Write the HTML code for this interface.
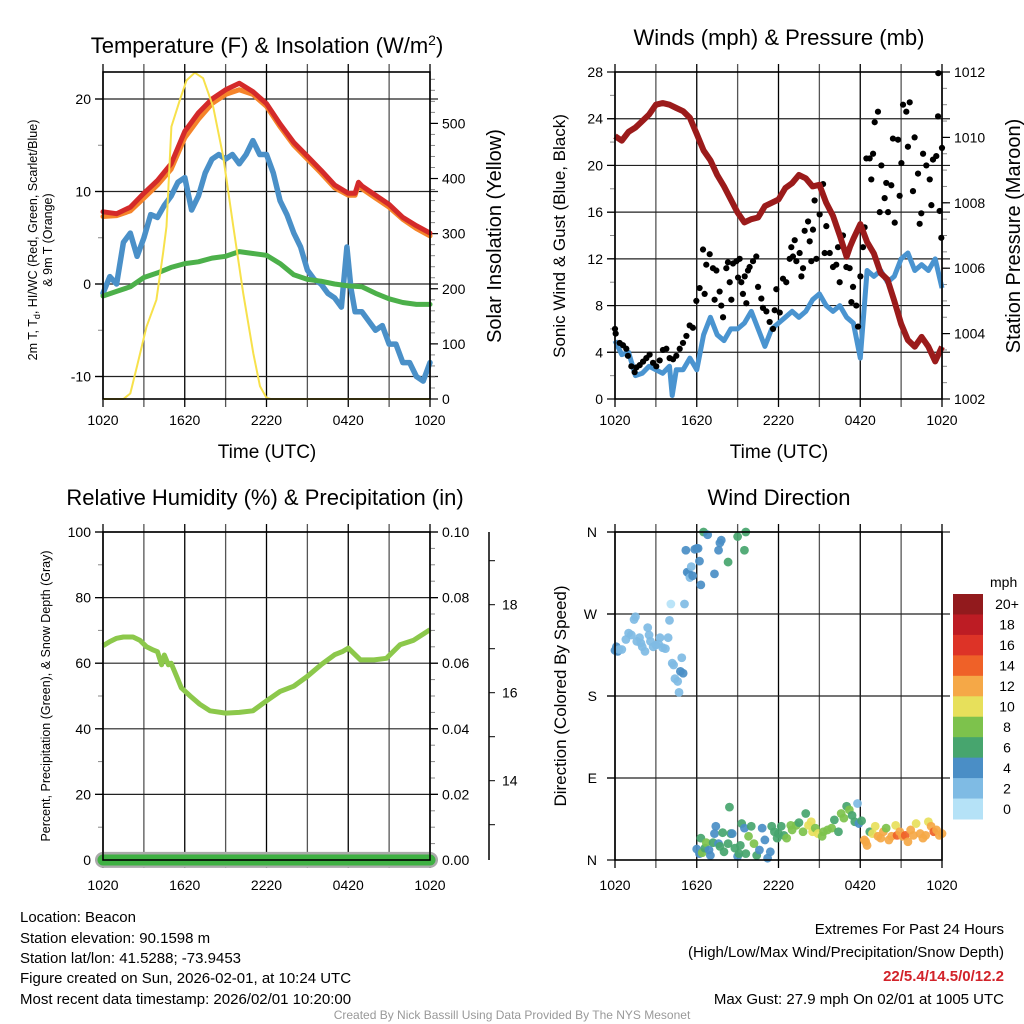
<!DOCTYPE html>
<html><head><meta charset="utf-8"><title>Beacon Mesonet Meteogram</title>
<style>
html,body{margin:0;padding:0;background:#fff;}
svg{display:block;font-family:"Liberation Sans",sans-serif;}
</style></head>
<body>
<svg id="fig" width="1024" height="1024" viewBox="0 0 1024 1024" xmlns="http://www.w3.org/2000/svg">
<rect x="0" y="0" width="1024" height="1024" fill="#fff"/>
<text x="267" y="53" font-size="22" text-anchor="middle">Temperature (F) &amp; Insolation (W/m<tspan dy="-8" font-size="14">2</tspan><tspan dy="8">)</tspan></text>
<text x="779" y="45" font-size="22" text-anchor="middle">Winds (mph) &amp; Pressure (mb)</text>
<text x="265" y="505" font-size="22" text-anchor="middle">Relative Humidity (%) &amp; Precipitation (in)</text>
<text x="779" y="505" font-size="22" text-anchor="middle">Wind Direction</text>

<g font-size="12.5" text-anchor="middle">
<text transform="translate(37,240) rotate(-90)">2m T, T<tspan font-size="9" dy="3">d</tspan><tspan dy="-3">, HI/WC (Red, Green, Scarlet/Blue)</tspan></text>
<text transform="translate(52,240) rotate(-90)">&amp; 9m T (Orange)</text>
</g>
<text transform="translate(501,236) rotate(-90)" font-size="20" text-anchor="middle">Solar Insolation (Yellow)</text>
<text x="267" y="458" font-size="19" text-anchor="middle">Time (UTC)</text>
<text x="779" y="458" font-size="19" text-anchor="middle">Time (UTC)</text>
<text transform="translate(565,236) rotate(-90)" font-size="17" text-anchor="middle">Sonic Wind &amp; Gust (Blue, Black)</text>
<text transform="translate(1020,236) rotate(-90)" font-size="20" text-anchor="middle">Station Pressure (Maroon)</text>
<text transform="translate(50,696) rotate(-90)" font-size="12.5" text-anchor="middle">Percent, Precipitation (Green), &amp; Snow Depth (Gray)</text>
<text transform="translate(566,696) rotate(-90)" font-size="17" text-anchor="middle">Direction (Colored By Speed)</text>

<g id="p1"></g>
<g id="p2"></g>
<g id="p3"></g>
<g id="p4"></g>

<g font-size="15">
<text x="20" y="922">Location: Beacon</text>
<text x="20" y="943">Station elevation: 90.1598 m</text>
<text x="20" y="963">Station lat/lon: 41.5288; -73.9453</text>
<text x="20" y="983">Figure created on Sun, 2026-02-01, at 10:24 UTC</text>
<text x="20" y="1004">Most recent data timestamp: 2026/02/01 10:20:00</text>
</g>
<g font-size="15" text-anchor="end">
<text x="1004" y="934">Extremes For Past 24 Hours</text>
<text x="1004" y="957">(High/Low/Max Wind/Precipitation/Snow Depth)</text>
<text x="1004" y="981" fill="#d2232a" font-weight="bold">22/5.4/14.5/0/12.2</text>
<text x="1004" y="1004">Max Gust: 27.9 mph On 02/01 at 1005 UTC</text>
</g>
<text x="512" y="1019" font-size="12" fill="#999" text-anchor="middle">Created By Nick Bassill Using Data Provided By The NYS Mesonet</text>
</svg>
<script>
// ---------- data ----------
const xTickLabels = ["1020","1620","2220","0420","1020"];
// Panel 1 (hours since 1020 UTC)
const tempHours = [0,1,2,3,4,5,6,7,8,9,10,11,12,13,14,15,16,17,18,18.5,18.75,19,20,21,22,23,24];
const tempRed = [7.8,7.6,8.3,9.8,11.2,13,16.5,18.5,20,21,21.7,20.8,19.5,17.3,15.3,13.8,12.3,10.7,9.8,9.8,11.0,10.6,9.6,8.6,7.2,6.3,5.5];
const temp9m = [7.3,7.4,7.9,9.3,10.7,12.4,15.8,17.8,19.5,20.5,21.0,20.5,19.2,17.0,15.0,13.5,12.0,10.4,9.6,9.6,10.7,10.3,9.3,8.3,7.0,6.0,5.2];
const dewHours = [0,0.5,1,1.5,2,2.5,3,3.5,4,4.5,5,5.5,6,6.5,7,7.5,8,8.5,9,9.5,10,10.5,11,11.5,12,12.5,13,13.5,14,14.5,15,15.5,16,16.5,17,17.5,17.9,18.2,18.5,19,19.5,20,20.5,21,21.5,22,22.5,23,23.5,24];
const dewBlue = [-1,0.8,0,4.5,5.5,3,5,7.5,7.2,8.5,9.5,11,11.5,8,9.5,12,13.5,14,13.5,14,13,14,15.5,14,14,12,9,7.5,5.5,4,1.5,0.5,0,-1,-1.5,-2.5,4,-0.5,-3,-3,-4,-5,-4.5,-6.5,-6.5,-8.5,-8.5,-10,-10.5,-8.5];
const greenHours = [0,1,2,3,4,5,6,7,8,9,10,11,12,13,14,15,16,17,18,19,20,21,22,23,24];
const greenT = [-1.3,-0.8,-0.3,0.7,1.2,1.8,2.2,2.4,2.8,3,3.5,3.3,3.1,2.2,1,0.5,0.3,0,-0.2,-0.3,-1,-1.6,-2,-2.2,-2.2];
const solarHours = [0,1.5,2.0,2.5,3.19,3.92,4.41,4.66,5.02,5.64,6.13,6.74,7.35,8.09,8.82,9.56,10.29,11.03,11.52,12.0,12.3,24];
const solarW = [0,0,10,60,131,180,265,313,494,542,578,592,582,530,440,313,192,83,23,2,0,0];
// Panel 2
const windHours = [0,0.5,1,1.5,2,2.5,3,3.5,4,4.2,4.5,5,5.5,6,6.5,7,7.5,8,8.5,9,9.5,10,10.5,11,11.5,12,12.5,13,13.5,14,14.5,15,15.5,16,16.5,17,17.5,18,18.5,19,19.5,20,20.5,21,21.5,22,22.5,23,23.5,24];
const windSpeed = [5,3.8,4,2,2.2,2.8,2.5,2.2,2.8,0.3,2.5,2.5,3.5,2.5,5.5,7,5.5,5,6,6,6.5,7.5,6,4.5,6,6.5,7,7.5,7,7.5,8.5,9,8,7.5,8,7,6.5,3.5,11,10.5,11,10,10.5,12,12.5,11,11.5,11,12,9.5];
const gustHours = [0,0.05,0.34,0.59,0.83,0.95,1.2,1.44,1.57,1.81,2.06,2.3,2.54,2.79,3.03,3.28,3.52,3.77,4.01,4.26,4.5,4.75,4.99,5.24,5.48,5.72,5.97,6.21,6.46,6.58,6.7,6.95,7.19,7.31,7.44,7.68,7.8,7.93,8.17,8.29,8.42,8.54,8.66,8.91,9.03,9.15,9.27,9.39,9.52,9.64,9.76,9.88,10.13,10.37,10.5,10.74,10.86,11.11,11.35,11.6,11.72,11.84,12.09,12.33,12.57,12.82,12.94,13.06,13.19,13.31,13.55,13.68,13.8,13.92,14.17,14.29,14.41,14.53,14.65,14.78,15.02,15.27,15.39,15.51,15.76,16,16.24,16.37,16.49,16.73,16.98,17.22,17.35,17.47,17.71,17.84,18.01,18.2,18.32,18.45,18.69,18.81,18.94,19.06,19.3,19.43,19.55,19.79,19.91,20.04,20.28,20.4,20.53,20.77,20.89,21.02,21.14,21.38,21.5,21.63,21.87,21.99,22.24,22.36,22.48,22.61,22.85,23.1,23.22,23.34,23.58,23.71,23.73,23.83,23.95,24];
const gustSpeed = [6,5.6,4.8,4.6,4.3,3.7,2.8,2.3,2.7,2.9,3.2,3.5,3.8,3.1,2.8,3.3,4.2,4.3,3.5,3.4,3.7,4.3,4.8,5.4,6.3,6.1,8.4,9.5,12.8,9,11.5,12.4,11.2,8.5,11,9.2,8,7,11.2,11.7,10,8.5,11.6,11.8,10.4,12,10,9,10.5,8.2,11,11.3,11.8,12.2,9.6,8.6,7.8,7.5,6.6,6,7.6,9.4,7.4,10.3,10,12,13,12.2,13.6,11.8,12.5,10.5,11.2,14.4,15.2,13.5,11.8,14.5,17,12,15.8,18.4,12.5,14.8,12.5,11.3,11.5,13,10,14,11.3,11.2,8.3,9.6,8,6.2,10.5,13,14.7,20.6,20.6,18.8,21,23.7,24.6,16,20,17.2,18.5,16,18.3,22.3,15.1,22.2,17.4,20.2,25.2,24.6,21.6,25.4,17.8,22.4,19.3,15,15.9,21,20,18.8,16.6,20.5,20.8,24.2,27.9,16.1,13.8,21.5];
const pressHours = [0,0.5,1,1.5,2,2.5,3,3.5,4,4.5,5,5.5,6,6.5,7,7.5,8,8.5,9,9.5,10,10.5,11,11.5,12,12.5,13,13.5,14,14.5,15,15.5,16,16.5,17,17.25,17.5,18,18.5,19,19.5,20,20.5,21,21.5,22,22.5,23,23.5,24];
const pressMb = [1010.04,1009.9,1010.17,1010.3,1010.5,1010.7,1011.0,1011.05,1011.0,1010.9,1010.8,1010.6,1010.1,1009.6,1009.3,1008.85,1008.5,1008.1,1007.7,1007.4,1007.5,1007.55,1007.9,1008.0,1008.1,1008.45,1008.6,1008.85,1008.75,1008.5,1008.55,1008.0,1007.6,1007.0,1006.35,1006.65,1006.9,1007.35,1006.8,1006.45,1005.85,1005.65,1005.0,1004.3,1003.8,1003.6,1003.9,1003.6,1003.15,1003.6];
// Panel 3
const rhHours = [0,0.5,1,1.5,2.2,2.7,3.2,3.7,4.0,4.3,4.5,4.8,5.0,5.4,5.75,6.4,7.1,7.85,9.0,10.0,11,12,13,14,15,16,17,17.6,18,18.9,19.9,20.8,21.8,22.8,24];
const rhPct = [65.3,66.6,67.6,68,68,67,65,64,63.5,59.5,62.5,59.5,60,56,52.5,50,47.5,45.5,44.8,45,45.5,48.5,51.4,53,56,59.5,62.6,63.6,64.6,61,61,61.5,65.6,67,70.2];
const precipHours = [0,24];
const precipIn = [0,0];
const snowHours = [0,24];
const snowDepth = [12.2,12.2];
// Panel 4
const dirHours = [0,0.1,0.2,0.3,0.5,0.8,1.0,1.2,1.4,1.5,1.6,1.8,1.9,2.0,2.2,2.4,2.5,2.6,2.8,3.0,3.2,3.3,3.5,3.7,3.9,4.0,4.1,4.2,4.3,4.4,4.6,4.7,4.8,4.9,5.0,5.1,5.2,5.3,5.4,5.5,5.6,5.7,5.85,6.0,6.1,6.2,6.3,6.5,6.8,7.3,7.6,7.7,7.8,8.3,9.0,9.5,9.6,
6.0,6.2,6.3,6.4,6.6,6.7,6.9,7.0,7.2,7.3,7.4,7.6,7.7,7.9,8.0,8.3,8.4,8.5,8.6,8.8,9.0,9.1,9.2,9.3,9.5,9.6,9.8,10.0,10.2,10.4,10.6,10.8,11.0,11.2,11.4,11.5,11.7,11.9,12.0,12.2,12.4,12.6,12.9,13.0,13.3,13.5,13.8,14.0,14.2,14.4,14.5,14.7,14.9,15.2,15.3,15.6,15.9,16.1,16.4,16.6,16.8,17.0,17.2,17.4,17.6,17.8,17.9,18.1,18.3,18.4,18.5,18.7,18.9,19.1,19.3,19.5,19.7,19.9,20.1,20.3,20.6,20.7,20.9,21.1,21.3,21.5,21.7,21.9,22.1,22.4,22.6,22.8,23.0,23.2,23.4,23.6,23.8,24];
const dirDeg = [230,234,229,231,231,242,249,247,264,267,240,244,238,234,229,255,247,240,234,236,237,244,233,232,244,263,281,216,214,199,196,184,207,222,205,281,340,316,315,310,322,312,341,342,342,328,302,360,357,314,340,348,351,327,355,340,360,
12,7,24,8,13,19,11,5,19,29,37,18,15,30,9,18,58,29,29,13,4,7,16,40,35,7,26,37,18,5,11,35,22,2,9,37,31,24,29,37,27,24,38,33,38,41,31,51,38,42,31,35,29,26,31,33,35,44,31,51,46,59,55,49,42,62,40,43,22,20,16,31,29,37,26,24,31,35,22,26,38,27,31,26,27,20,33,27,40,29,24,27,42,37,31,33,27,29];
const dirSpeed = [4.5,4.5,4.5,3,3,2.5,2.5,2,2.5,2.5,2,2.5,2,2.5,2,2.5,2.5,2,2.5,2.5,2,2,2.5,2.5,2.5,2.5,1,2,2.5,2.5,2.5,2.5,4.5,2.5,4.5,2.5,4.5,4.5,4.5,2.5,2.5,4.5,4.5,4.5,4.5,4.5,4.5,6.5,4.5,4.5,4.5,4.5,4.5,6.5,6.5,6.5,6.5,
4.5,4.5,6.5,8.5,6.5,8.5,4.5,4.5,6.5,4.5,4.5,4.5,6.5,6.5,6.5,6.5,6.5,6.5,4.5,6.5,4.5,6.5,6.5,6.5,4.5,6.5,8.5,6.5,8.5,6.5,4.5,4.5,4.5,4.5,4.5,6.5,6.5,6.5,6.5,6.5,6.5,8.5,8.5,8.5,8.5,6.5,8.5,6.5,10.5,10.5,10.5,8.5,10.5,8.5,8.5,8.5,8.5,6.5,6.5,8.5,8.5,6.5,8.5,6.5,6.5,2.5,4.5,6.5,12.5,12.5,12.5,6.5,10.5,10.5,12.5,12.5,12.5,8.5,12.5,12.5,10.5,14.5,12.5,12.5,14.5,12.5,12.5,12.5,10.5,12.5,12.5,12.5,10.5,12.5,14.5,12.5,12.5,12.5];
const speedBins = ["0","2","4","6","8","10","12","14","16","18","20+"];
const binColors = ["#b5e2f7","#7fbbe4","#4a8ec6","#47a56e","#7dc24c","#e7e05b","#f5a847","#ef6128","#dd3327","#bd1c24","#921a1d"];
const dirLabels = ["N","E","S","W","N"];

// ---------- helpers ----------
const NS = "http://www.w3.org/2000/svg";
function el(parent, tag, attrs, text) {
  const e = document.createElementNS(NS, tag);
  for (const k in attrs) e.setAttribute(k, attrs[k]);
  if (text !== undefined) e.textContent = text;
  parent.appendChild(e);
  return e;
}
function lin(d0, d1, r0, r1) { return v => r0 + (v - d0) * (r1 - r0) / (d1 - d0); }
function pathD(xs, ys, sx, sy) {
  return xs.map((h, i) => (i ? "L" : "M") + sx(h).toFixed(1) + "," + sy(ys[i]).toFixed(1)).join("");
}
function drawFrame(g, L, R, T, B, sx, hGridVals, sy) {
  for (let h = 0; h <= 24; h += 3) {
    const x = sx(h);
    const v = el(g, "line", {x1: x, x2: x, y1: T - 8, y2: B + 8, stroke: (h % 6 === 0) ? "#000" : "#555", "stroke-width": 1.3});
    
    
  }
  hGridVals.forEach(val => {
    const y = sy(val);
    const l = el(g, "line", {x1: L - 8, x2: R + 8, y1: y, y2: y, stroke: "#222", "stroke-width": 1.2});
    
    
  });
}
function border(g, L, R, T, B) {
  const r = el(g, "rect", {x: L, y: T, width: R - L, height: B - T, fill: "none", stroke: "#000", "stroke-width": 1.6});
  
  
}
function xLabels(g, sx, y) {
  xTickLabels.forEach((t, i) => {
    const tx = el(g, "text", {x: sx(i * 6), y: y, "font-size": 14, "text-anchor": "middle"}, t);
    
    
  });
}
function yAxis(g, x, side, vals, sy, fmt, minorVals, fs) {
  const dir = side === "left" ? -1 : 1;
  minorVals.forEach(v => {
    const m = el(g, "line", {x1: x, x2: x + dir * 5, y1: sy(v), y2: sy(v), stroke: "#888", "stroke-width": 1});
    
    
  });
  vals.forEach(v => {
    const t = el(g, "line", {x1: x, x2: x + dir * 8, y1: sy(v), y2: sy(v), stroke: "#000", "stroke-width": 1.2});
    
    
    const lab = el(g, "text", {x: x + dir * 12, y: sy(v) + 5, "font-size": fs || 14, "text-anchor": side === "left" ? "end" : "start"}, fmt(v));
    
    
  });
}
function range(a, b, s) { const r = []; for (let v = a; v <= b + 1e-9; v += s) r.push(+v.toFixed(4)); return r; }

// ---------- Panel 1 ----------
(function () {
  const g = document.getElementById("p1");
  const L = 103, R = 430, T = 72, B = 399;
  const sx = lin(0, 24, L, R);
  const sy = lin(0, 10, 284, 191.5);
  const sw = lin(0, 500, 399, 123.4);
  drawFrame(g, L, R, T, B, sx, [20, 10, 0, -10], sy);
  yAxis(g, L, "left", [20, 10, 0, -10], sy, v => String(v), [15, 5, -5]);
  yAxis(g, R, "right", [0, 100, 200, 300, 400, 500], sw, v => String(v), range(0, 580, 20));
  const series = [
    [dewHours, dewBlue, "#4a90c8", 5.5, "dewpoint-line"],
    [greenHours, greenT, "#4cb04a", 5, "heat-index-line"],
    [tempHours, temp9m, "#f5842a", 5, "temperature-9m-line"],
    [tempHours, tempRed, "#d42a2a", 5, "temperature-2m-line"]
  ];
  series.forEach(s => {
    const p = el(g, "path", {d: pathD(s[0], s[1], sx, sy), fill: "none", stroke: s[2], "stroke-width": s[3], "stroke-linejoin": "round", "stroke-linecap": "round"});
    
    
  });
  const ps = el(g, "path", {d: pathD(solarHours, solarW, sx, sw), fill: "none", stroke: "#f7e14b", "stroke-width": 2, "stroke-linejoin": "round"});
  
  
  border(g, L, R, T, B);
  xLabels(g, sx, 425);
})();

// ---------- Panel 2 ----------
(function () {
  const g = document.getElementById("p2");
  const L = 615, R = 942, T = 72, B = 399;
  const sx = lin(0, 24, L, R);
  const sy = lin(0, 28, B, T);
  const sp = lin(1002, 1012, B, T);
  drawFrame(g, L, R, T, B, sx, range(4, 24, 4), sy);
  yAxis(g, L, "left", range(0, 28, 4), sy, v => String(v), range(0, 28, 2));
  yAxis(g, R, "right", range(1002, 1012, 2), sp, v => String(v), range(1002, 1012, 0.5));
  const pw = el(g, "path", {d: pathD(windHours, windSpeed, sx, sy), fill: "none", stroke: "#4a94d0", "stroke-width": 5, "stroke-linejoin": "round"});
  
  
  gustHours.forEach((h, i) => {
    const c = el(g, "circle", {cx: sx(h), cy: sy(gustSpeed[i]), r: 3.1, fill: "#000"});
    
    
  });
  const pp = el(g, "path", {d: pathD(pressHours, pressMb, sx, sp), fill: "none", stroke: "#9b1b1b", "stroke-width": 6, "stroke-linejoin": "round"});
  
  
  border(g, L, R, T, B);
  xLabels(g, sx, 425);
})();

// ---------- Panel 3 ----------
(function () {
  const g = document.getElementById("p3");
  const L = 103, R = 430, T = 532, B = 860;
  const sx = lin(0, 24, L, R);
  const sy = lin(0, 100, B, T);
  const spr = lin(0, 0.1, B, T);
  const ss = lin(12, 14, 868.7, 780.7);
  drawFrame(g, L, R, T, B, sx, range(20, 100, 20), sy);
  yAxis(g, L, "left", range(0, 100, 20), sy, v => String(v), range(10, 90, 20));
  yAxis(g, R, "right", range(0, 0.1, 0.02), spr, v => v.toFixed(2), range(0, 0.1, 0.005));
  const ax = el(g, "line", {x1: 489, x2: 489, y1: 532, y2: 860, stroke: "#000", "stroke-width": 1.5});
  
  
  for (let v = 13; v <= 19; v++) {
    const t = el(g, "line", {x1: 489, x2: 495, y1: ss(v), y2: ss(v), stroke: "#000", "stroke-width": 1});
    
    
    if (v % 2 === 0) {
      const lab = el(g, "text", {x: 502, y: ss(v) + 5, "font-size": 14}, String(v));
      
      
    }
  }
  const pr = el(g, "path", {d: pathD(rhHours, rhPct, sx, sy), fill: "none", stroke: "#8cc84b", "stroke-width": 5, "stroke-linejoin": "round"});
  
  
  const psn = el(g, "path", {d: pathD(snowHours, snowDepth, sx, ss), fill: "none", stroke: "#aaa", "stroke-width": 16, "stroke-linecap": "round"});
  
  
  const ppr = el(g, "path", {d: pathD(precipHours, precipIn, sx, spr), fill: "none", stroke: "#3fb143", "stroke-width": 11, "stroke-linecap": "round"});
  
  
  border(g, L, R, T, B);
  xLabels(g, sx, 890);
})();

// ---------- Panel 4 ----------
(function () {
  const g = document.getElementById("p4");
  const L = 615, R = 942, T = 532, B = 860;
  const sx = lin(0, 24, L, R);
  const sy = lin(0, 360, B, T);
  drawFrame(g, L, R, T, B, sx, [90, 180, 270, 360], sy);
  dirLabels.forEach((t, i) => {
    const y = sy(i * 90);
    const tk = el(g, "line", {x1: L - 8, x2: L, y1: y, y2: y, stroke: "#000", "stroke-width": 1.2});
    
    
    const lab = el(g, "text", {x: L - 18, y: y + 5, "font-size": 14, "text-anchor": "end"}, t);
    
    
  });
  dirHours.forEach((h, i) => {
    const bin = Math.min(10, Math.floor(dirSpeed[i] / 2));
    const c = el(g, "circle", {cx: sx(h), cy: sy(dirDeg[i]), r: 4.4, fill: binColors[bin], "fill-opacity": 0.92});
    
    
  });
  border(g, L, R, T, B);
  xLabels(g, sx, 890);
  // colorbar
  const cbTop = 594, cbH = 225 / 11, cbX = 953, cbW = 30;
  const title = el(g, "text", {x: 990, y: 587, "font-size": 14}, "mph");
  
  
  speedBins.forEach((lab, i) => {
    const idx = speedBins.length - 1 - i;
    const y = cbTop + i * cbH;
    const r = el(g, "rect", {x: cbX, y: y, width: cbW, height: cbH + 0.5, fill: binColors[idx]});
    
    
    const t = el(g, "text", {x: 1007, y: y + cbH / 2 + 5, "font-size": 14, "text-anchor": "middle"}, speedBins[idx]);
    
    
  });
})();
</script>
</body></html>
